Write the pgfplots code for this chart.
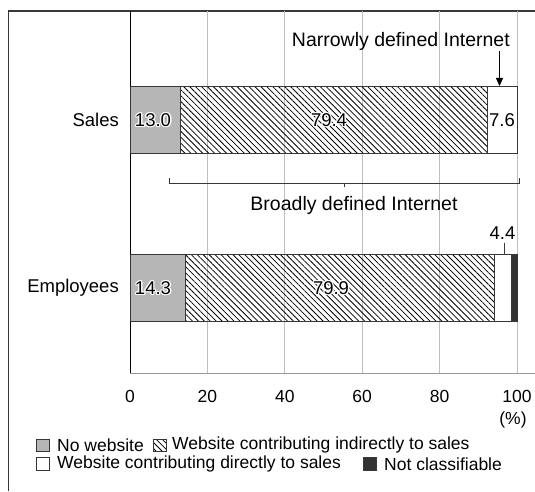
\documentclass[border=0pt]{standalone}
\usepackage{pgfplots}
\pgfplotsset{compat=1.18}
\usepackage{fontspec}
\setmainfont{Liberation Sans}
\usetikzlibrary{patterns.meta,arrows.meta}

\definecolor{nows}{RGB}{182,182,182}
\definecolor{edge}{RGB}{55,55,55}
\definecolor{gridc}{RGB}{190,190,190}
\definecolor{darkbar}{RGB}{50,50,50}

\newcommand{\valfont}{\fontsize{18.5}{21}\selectfont}
\newcommand{\notefont}{\fontsize{19.5}{22}\selectfont}

% text with a thin white halo round it
\newcommand{\halo}[2]{%
  \foreach \dx/\dy in {1.3/0,-1.3/0,0/1.3,0/-1.3,0.9/0.9,-0.9/0.9,0.9/-0.9,-0.9/-0.9}
    {\node[text=white, inner sep=0pt, font=\valfont] at ([shift={(\dx pt,\dy pt)}]#1) {#2};}
  \node[inner sep=0pt, font=\valfont] at (#1) {#2};}

\tikzset{hatch/.style={pattern={Lines[angle=-45,distance=4.2pt,line width=0.8pt]}}}

\begin{document}
\fontsize{17.5}{20}\selectfont
\begin{tikzpicture}
\useasboundingbox (0pt,0pt) rectangle (535pt,491pt);
% outer frame
\draw[edge, line width=1.1pt] (8.5pt,0pt) -- (8.5pt,480pt) -- (535pt,480pt);

\begin{axis}[
    at={(130pt,118pt)}, anchor=south west,
    scale only axis,
    width=405pt, height=362pt,
    xmin=0, xmax=104.65,
    ymin=0, ymax=362,
    xbar stacked,
    bar width=67,
    axis x line*=bottom,
    axis y line*=left,
    x axis line style={-, gridc!80!black, line width=1pt},
    y axis line style={-, black, line width=0.9pt},
    xtick={0,20,...,100},
    ytick={85,253},
    yticklabels={Employees,Sales},
    tick style={draw=none},
    xmajorgrids,
    grid style={gridc, line width=0.8pt},
    /pgf/number format/assume math mode=true,
    xticklabel style={inner sep=0pt, anchor=north, yshift=-17pt, font=\fontsize{17.5}{20}\selectfont},
    yticklabel style={inner sep=0pt, anchor=east, xshift=-11pt, font=\valfont},
]
\addplot[fill=nows, draw=edge, line width=0.8pt] coordinates {(13.0,253) (14.3,85)};
\addplot[hatch, draw=edge, line width=0.8pt] coordinates {(79.4,253) (79.9,85)};
\addplot[fill=white, draw=edge, line width=0.8pt] coordinates {(7.6,253) (4.4,85)};
\addplot[fill=darkbar, draw=edge, line width=0.8pt] coordinates {(0,253) (1.4,85)};
\end{axis}

\begin{scope}[x=1pt,y=1pt]
% value labels
\halo{153,371}{13.0}
\halo{329,371}{79.4}
\halo{502,371}{7.6}
\halo{153,203}{14.3}
\halo{331,203}{79.9}
\node[inner sep=0pt, font=\valfont] at (502.5,258) {4.4};
\draw[edge, line width=0.8pt] (504,248.5) -- (504,237);
\node[inner sep=0pt, anchor=base east, font=\notefont] at (510,444) {Narrowly defined Internet};
\draw[black, line width=1pt, -{Triangle[length=8pt,width=7pt]}] (499.5,440) -- (499.5,405);

% bracket for broadly defined internet
\draw[edge, line width=1pt] (169,313) -- (169,308) -- (519,308) -- (519,313);
\draw[edge, line width=1pt] (344,308) -- (344,304);
\node[inner sep=0pt, anchor=base, font=\notefont] at (354,281) {Broadly defined Internet};

\node[inner sep=0pt] at (513,71) {(\%)};

% legend
\filldraw[fill=nows, draw=edge, line width=0.8pt] (36.5,39.5) rectangle (49,52);
\node[inner sep=0pt, anchor=west] at (57,46) {No website};
\draw[hatch, draw=edge, line width=0.8pt] (153.5,39.5) rectangle (166,52);
\draw[edge, line width=0.8pt] (153.5,39.5) rectangle (166,52);
\node[inner sep=0pt, anchor=west] at (172,46) {Website contributing indirectly to sales};
\filldraw[fill=white, draw=edge, line width=0.8pt] (36.5,21) rectangle (49,33.5);
\node[inner sep=0pt, anchor=west] at (57,27) {Website contributing directly to sales};
\filldraw[fill=darkbar, draw=edge, line width=0.8pt] (363.5,21) rectangle (376,33.5);
\node[inner sep=0pt, anchor=west] at (384,27) {Not classifiable};
\end{scope}
\end{tikzpicture}
\end{document}
